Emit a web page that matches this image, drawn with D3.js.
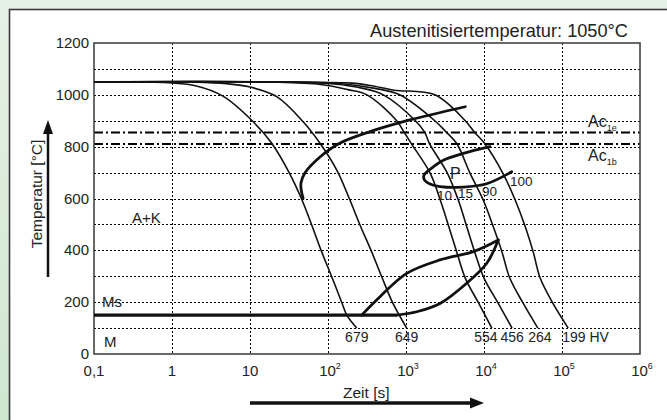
<!DOCTYPE html>
<html><head><meta charset="utf-8">
<script src="https://cdn.jsdelivr.net/npm/d3@7"></script>
<style>
body{margin:0;background:#fff;}
svg{display:block;font-family:"Liberation Sans",Arial,sans-serif;}
</style>
</head><body>
<svg id="chart" width="667" height="420"></svg>
<script>
// ---------- data ----------
const xTickValues = [0.1, 1, 10, 100, 1000, 10000, 100000, 1000000];
const xTickBase   = ["0,1", "1", "10", "10", "10", "10", "10", "10"];
const xTickExp    = ["", "", "", "2", "3", "4", "5", "6"];
const yTickValues = [0, 200, 400, 600, 800, 1000, 1200];
const yGridValues = [100, 200, 300, 400, 500, 600, 700, 800, 900, 1000, 1100];

const title = "Austenitisiertemperatur: 1050°C";
const xTitle = "Zeit [s]";
const yTitle = "Temperatur [°C]";

const acNames = ["Ac", "Ac"];
const acSubs  = ["1e", "1b"];
const acTemps = [855, 810];

// cooling curves: [time s, temperature °C]
const curve679 = [[0.1,1050],[0.5,1049],[1,1046],[2,1035],[4.5,995],[11,896],[19,813],[32,698],[46,597],[62,497],[83,394],[112,297],[151,197],[174,150],[234,100]];
const curve649 = [[0.1,1050],[2,1049],[5,1043],[10,1030],[22,993],[48,896],[79,813],[131,707],[191,594],[257,498],[363,394],[490,297],[676,197],[1020,100]];
const curve554 = [[0.1,1050],[20,1049],[80,1040],[180,1020],[316,1000],[760,900],[950,855],[1170,812],[2040,698],[2750,594],[3550,490],[4470,394],[5750,293],[8510,197],[12600,100]];
const curve456 = [[0.1,1050],[30,1049],[120,1042],[280,1025],[513,1000],[1320,900],[1740,855],[2000,812],[3390,698],[4680,594],[6030,490],[7590,394],[10000,293],[15100,197],[22900,100]];
const curve264 = [[0.1,1050],[40,1049],[150,1043],[400,1025],[830,1000],[2340,900],[3310,855],[4470,812],[6610,698],[9770,594],[13200,490],[17000,394],[21400,293],[31600,197],[49000,100]];
const curve199 = [[0.1,1050],[50,1049],[200,1045],[347,1036],[700,1018],[2340,1000],[5750,900],[7590,855],[10200,812],[17400,698],[25100,594],[33900,490],[42700,394],[52500,293],[75900,197],[120000,100]];
const coolingCurves = [curve679, curve649, curve554, curve456, curve264, curve199];
const hardness = ["679", "649", "554", "456", "264", "199 HV"];

// transformation lines
const carbideLine  = [[48,600],[45.5,630],[45,660],[51,700],[79,760],[141,813],[347,858],[1122,903],[5754,954]];
const pearliteLine = [[11900,800],[5430,774],[3010,748],[2240,722],[1700,690],[1720,672],[2030,656],[2730,646],[5430,644],[10840,657],[22650,703]];
const bainiteUpper = [[270,150],[464,221],[1021,311],[2730,363],[7300,395],[15240,440]];
const bainiteLower = [[15240,440],[10840,350],[6000,273],[2730,195],[1372,163],[760,150]];
const msLine       = [[0.1,150],[760,150]];
const pearlitePct  = ["10", "15", "90", "100"];
const pctTime      = [2500, 4650, 9420, 21500];
const pctTemp      = [594, 602, 610, 648];

// ---------- drawing ----------
const svg = d3.select("#chart");
const W = 667, H = 420;
const m = {left: 94, right: 640, top: 43, bottom: 354};

const defs = svg.append("defs");
const g = defs.append("linearGradient").attr("id","bg").attr("x1",0).attr("y1",0).attr("x2",0).attr("y2",1);
g.append("stop").attr("offset","0%").attr("stop-color","#e6f1e5");
g.append("stop").attr("offset","100%").attr("stop-color","#cfe6cf");
svg.append("rect").attr("width",W).attr("height",H).attr("fill","url(#bg)");
svg.append("rect").attr("x",9.5).attr("y",9.5).attr("width",700).attr("height",500)
  .attr("fill","#fff").attr("stroke","#3a3a3a").attr("stroke-width",1.6);

const x = d3.scaleLog().domain([0.1, 1e6]).range([m.left, m.right]);
const y = d3.scaleLinear().domain([0, 1200]).range([m.bottom, m.top]);

// grid
const grid = svg.append("g").attr("stroke","#000").attr("stroke-width",1).attr("stroke-dasharray","2,2").attr("fill","none");
grid.selectAll("line.h").data(yGridValues).enter().append("line")
  .attr("x1",m.left).attr("x2",m.right).attr("y1",d=>Math.round(y(d))+0.5).attr("y2",d=>Math.round(y(d))+0.5);
grid.selectAll("line.v").data(xTickValues.slice(1,-1)).enter().append("line")
  .attr("y1",m.top).attr("y2",m.bottom).attr("x1",d=>Math.round(x(d))+0.5).attr("x2",d=>Math.round(x(d))+0.5);

// Ac lines
svg.selectAll("line.ac").data(acTemps).enter().append("line")
  .attr("x1",m.left).attr("x2",m.right).attr("y1",d=>y(d)).attr("y2",d=>y(d))
  .attr("stroke","#000").attr("stroke-width",2).attr("stroke-dasharray","9,3,2,3");

// frame
svg.append("rect").attr("x",m.left).attr("y",m.top).attr("width",m.right-m.left).attr("height",m.bottom-m.top)
  .attr("fill","none").attr("stroke","#444").attr("stroke-width",1.6);

const line = d3.line().x(d=>x(d[0])).y(d=>y(d[1])).curve(d3.curveCatmullRom.alpha(0.5));

// cooling curves
svg.selectAll("path.cool").data(coolingCurves).enter().append("path")
  .attr("d",line).attr("fill","none").attr("stroke","#111").attr("stroke-width",1.6);

// thick lines
const thick = [carbideLine, pearliteLine, bainiteUpper, bainiteLower];
svg.selectAll("path.thick").data(thick).enter().append("path")
  .attr("d",line).attr("fill","none").attr("stroke","#111").attr("stroke-width",2.8).attr("stroke-linecap","round");
svg.append("path").attr("d",d3.line().x(d=>x(d[0])).y(d=>y(d[1]))(msLine))
  .attr("fill","none").attr("stroke","#111").attr("stroke-width",3.2);

// text
const txt = svg.append("g").attr("fill","#222").attr("font-size",15);
txt.selectAll("text.yt").data(yTickValues).enter().append("text")
  .attr("x",89).attr("y",d=>y(d)+5).attr("text-anchor","end").text(d=>d);
const xt = txt.selectAll("text.xt").data(xTickValues).enter().append("text")
  .attr("x",(d,i)=>x(d)+(xTickExp[i]?2:0)).attr("y",376).attr("text-anchor","middle");
xt.append("tspan").text((d,i)=>xTickBase[i]);
xt.append("tspan").attr("font-size",9).attr("dy",-7).text((d,i)=>xTickExp[i]);

// title
svg.append("text").attr("x",628).attr("y",37).attr("text-anchor","end").attr("font-size",18.2).attr("fill","#222").text(title);

// axis titles + arrows
svg.append("text").attr("x",343).attr("y",398).attr("font-size",15.5).attr("fill","#222").text(xTitle);
svg.append("text").attr("transform","translate(42,194) rotate(-90)").attr("text-anchor","middle")
  .attr("font-size",15.5).attr("fill","#222").text(yTitle);

svg.append("line").attr("x1",250).attr("x2",472).attr("y1",403).attr("y2",403).attr("stroke","#111").attr("stroke-width",3.5);
svg.append("path").attr("d","M484,403 L470,397.5 L470,408.5 Z").attr("fill","#111");
svg.append("line").attr("x1",48).attr("x2",48).attr("y1",277).attr("y2",132).attr("stroke","#111").attr("stroke-width",2.5);
svg.append("path").attr("d","M48,120 L43,134 L53,134 Z").attr("fill","#111");

// Ac labels
const acg = svg.selectAll("text.ac").data(acTemps).enter().append("text")
  .attr("x",588).attr("y",(d,i)=> i===0 ? y(d)-5 : y(d)+17).attr("font-size",16).attr("fill","#222");
acg.append("tspan").text((d,i)=>acNames[i]);
acg.append("tspan").attr("font-size",9).attr("dy",4).text((d,i)=>acSubs[i]);

// region labels
svg.append("text").attr("x",132).attr("y",y(530)+6).attr("font-size",15).attr("fill","#222").text("A+K");
svg.append("text").attr("x",102).attr("y",y(200)+5).attr("font-size",15).attr("fill","#222").text("Ms");
svg.append("text").attr("x",104).attr("y",y(50)+6).attr("font-size",15).attr("fill","#222").text("M");
svg.append("text").attr("x",450).attr("y",y(700)+6).attr("font-size",16).attr("fill","#222").text("P");

// hardness labels at curve ends
const hdx = [0, 0, -6, 0, 2, -6];
svg.selectAll("text.hv").data(coolingCurves).enter().append("text")
  .attr("x",(d,i)=>x(d[d.length-1][0])+hdx[i])
  .attr("y",(d)=>y(d[d.length-1][1])+14)
  .attr("text-anchor",(d,i)=> i===5 ? "start" : "middle")
  .attr("font-size",14).attr("fill","#222").text((d,i)=>hardness[i]);

// pearlite percentages
svg.selectAll("text.pct").data(pearlitePct).enter().append("text")
  .attr("x",(d,i)=>x(pctTime[i])).attr("y",(d,i)=>y(pctTemp[i]))
  .attr("font-size",13.5).attr("fill","#222").text(d=>d);
</script>
</body></html>
